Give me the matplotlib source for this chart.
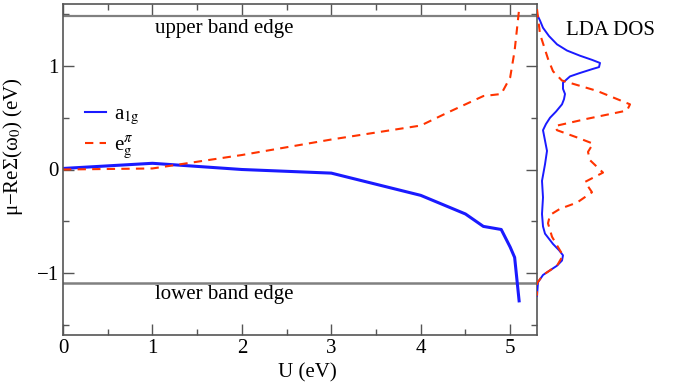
import matplotlib.pyplot as plt
from matplotlib.lines import Line2D

plt.rcParams["font.family"] = ["Liberation Serif", "DejaVu Serif"]
plt.rcParams["mathtext.fontset"] = "stix"

# self-energy shift vs U
U = [0, 1, 2, 3, 4, 4.5, 4.7, 4.9, 5.0, 5.05, 5.1]
a1g = [0.01, 0.06, 0.0, -0.035, -0.25, -0.43, -0.55, -0.58, -0.75, -0.85, -1.27]
U_eg = [0, 1, 2, 3, 4, 4.3, 4.5, 4.7, 4.9, 5.0, 5.05, 5.1]
eg = [0.0, 0.01, 0.14, 0.29, 0.425, 0.55, 0.63, 0.71, 0.73, 0.89, 1.15, 1.55]

upper_edge = 1.48
lower_edge = -1.10

# LDA DOS (arbitrary units), energy on vertical axis
E_a = [1.5, 1.44, 1.37, 1.29, 1.21, 1.15, 1.10, 1.06, 1.03, 0.99, 0.97, 0.93, 0.90,
       0.84, 0.78, 0.73, 0.68, 0.63, 0.56, 0.50, 0.44, 0.38, 0.28, 0.18, 0.05, -0.11,
       -0.27, -0.43, -0.55, -0.62, -0.72, -0.78, -0.83, -0.88, -0.93, -1.02, -1.09, -1.22]
dos_a = [0.0, 0.03, 0.06, 0.12, 0.20, 0.30, 0.43, 0.55, 0.63, 0.62, 0.55, 0.42, 0.33,
         0.26, 0.26, 0.28, 0.27, 0.25, 0.19, 0.13, 0.09, 0.06, 0.08, 0.10, 0.08, 0.05,
         0.06, 0.05, 0.06, 0.08, 0.16, 0.22, 0.26, 0.25, 0.20, 0.06, 0.01, 0.0]
E_e = [1.55, 1.31, 1.07, 0.95, 0.86, 0.76, 0.63, 0.57, 0.49, 0.42, 0.38, 0.31, 0.25,
       0.17, 0.09, -0.03, -0.06, -0.12, -0.22, -0.32, -0.38, -0.44, -0.52, -0.65,
       -0.75, -0.83, -0.93, -1.02, -1.10, -1.22]
dos_e = [0.0, 0.03, 0.11, 0.16, 0.25, 0.60, 0.93, 0.90, 0.50, 0.18, 0.20, 0.40, 0.56,
         0.51, 0.53, 0.66, 0.60, 0.48, 0.55, 0.40, 0.23, 0.13, 0.11, 0.15,
         0.21, 0.26, 0.20, 0.06, 0.0, 0.0]

blue = "#1a1aff"
red = "#ff3300"
frame = "#555555"

fig = plt.figure(figsize=(6.85, 3.84), dpi=100)
ax = fig.add_axes([63 / 685, 1 - 335 / 384, 474 / 685, 331 / 384])

ax.axhline(upper_edge, color="#808080", lw=1.6)
ax.axhline(lower_edge, color="#808080", lw=1.8)
ax.plot(U, a1g, color=blue, lw=2.2)
ax.plot(U_eg, eg, color=red, lw=1.5, dashes=(4, 3))

ax.text(1.8, 1.36, "upper band edge", fontsize=15, ha="center", va="center")
ax.text(1.8, -1.21, "lower band edge", fontsize=15, ha="center", va="center")

ax.set_xlim(0, 5.3)
ax.set_ylim(-1.6, 1.6)
ax.set_xticks([0, 1, 2, 3, 4, 5])
ax.set_xticks([0.5, 1.5, 2.5, 3.5, 4.5], minor=True)
ax.set_yticks([-1, 0, 1])
ax.set_yticks([-1.5, -0.5, 0.5, 1.5], minor=True)
ax.tick_params(which="both", direction="in", top=True, right=True, labelsize=15,
               color=frame)
ax.tick_params(which="major", length=8, width=1, pad=3)
ax.tick_params(which="minor", length=4, width=1)
for s in ax.spines.values():
    s.set_color(frame)
    s.set_linewidth(1.2)

ax.set_xlabel("U (eV)", fontsize=15)
ax.xaxis.set_label_coords(0.515, -0.085)
ax.set_ylabel("μ−ReΣ(ω$_0$) (eV)", fontsize=15)
ax.yaxis.set_label_coords(-0.08, 0.57)

handles = [Line2D([], [], color=blue, lw=1.5),
           Line2D([], [], color=red, lw=1.5, dashes=(4, 3))]
ax.legend(handles, [r"a$_{\rm 1g}$", r"e$_{\rm g}^{\pi}$"], loc="center left",
          bbox_to_anchor=(0.046, 0.61), frameon=False, fontsize=15,
          handlelength=1.0, handletextpad=0.4, borderpad=0, borderaxespad=0,
          labelspacing=0.35)

# DOS side panel
ax2 = fig.add_axes([537 / 685, 1 - 335 / 384, 140 / 685, 331 / 384])
ax2.plot(dos_a, E_a, color=blue, lw=1.4)
ax2.plot(dos_e, E_e, color=red, lw=1.5, dashes=(4, 3))
ax2.set_xlim(0, 1.4)
ax2.set_ylim(-1.6, 1.6)
ax2.axis("off")
ax2.text(0.73, 1.34, "LDA DOS", fontsize=15, ha="center", va="center")

fig.savefig("out.png", dpi=100)
